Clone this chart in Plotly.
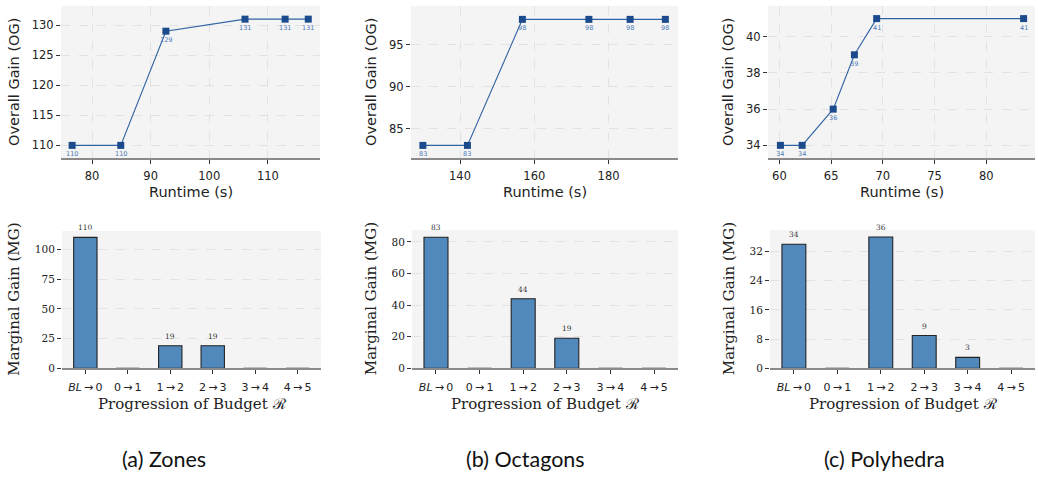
import plotly.graph_objects as go

W, H = 1038, 481

# ---------------- data ----------------
zones_rt = [76.6, 84.9, 92.6, 106.1, 112.95, 116.9]
zones_og = [110, 110, 129, 131, 131, 131]
oct_rt = [130.0, 142.0, 156.8, 174.7, 185.8, 195.3]
oct_og = [83, 83, 98, 98, 98, 98]
poly_rt = [60.1, 62.2, 65.2, 67.25, 69.4, 83.6]
poly_og = [34, 34, 36, 39, 41, 41]

budget_labels = ["<i>BL</i>\u2009→\u20090", "0\u2009→\u20091", "1\u2009→\u20092",
                 "2\u2009→\u20093", "3\u2009→\u20094", "4\u2009→\u20095"]
zones_mg = [110, 0, 19, 19, 0, 0]
oct_mg = [83, 0, 44, 19, 0, 0]
poly_mg = [34, 0, 36, 9, 3, 0]

captions = ["(a) Zones", "(b) Octagons", "(c) Polyhedra"]

# ---------------- layout boxes (pixels) ----------------
top_boxes = [(61, 320, 6, 160), (411, 678, 6, 160), (768, 1035, 6, 160)]
bot_boxes = [(62, 321, 234, 373), (412, 678, 233, 373), (770, 1035, 233, 373)]
top_xr = [[74.7, 118.9], [126.8, 198.7], [58.9, 84.7]]
top_yr = [[107.9, 133.2], [81.5, 99.6], [33.3, 41.7]]
top_xt = [[80, 90, 100, 110], [140, 160, 180], [60, 65, 70, 75, 80]]
top_yt = [[110, 115, 120, 125, 130], [85, 90, 95], [34, 36, 38, 40]]
bot_yr = [[0, 115.3], [0, 87.5], [0, 37.9]]
bot_yt = [[0, 25, 50, 75, 100], [0, 20, 40, 60, 80], [0, 8, 16, 24, 32]]

caption_x = [164, 525, 884]

SANS = "DejaVu Sans"
SERIF = "DejaVu Serif"
BG = "#f4f4f4"
GRID = "#e2e2e2"
MARK = "#1b4b8c"
LINE = "#2f62a3"
LBL = "#4d7bb7"
BAR = "#5289bd"

fig = go.Figure()
annotations = []

def px_x(x):
    return x / W

def px_y(y):
    return 1 - y / H

runtimes = [zones_rt, oct_rt, poly_rt]
ogs = [zones_og, oct_og, poly_og]
mgs = [zones_mg, oct_mg, poly_mg]

for i in range(3):
    # ---- top line panel ----
    xa = f"x{2*i+1}" if i > 0 else "x"
    ya = f"y{2*i+1}" if i > 0 else "y"
    xkey = f"xaxis{2*i+1}" if i > 0 else "xaxis"
    ykey = f"yaxis{2*i+1}" if i > 0 else "yaxis"
    x0, x1, y0, y1 = top_boxes[i]
    fig.add_trace(go.Scatter(
        x=runtimes[i], y=ogs[i], mode="lines+markers",
        line=dict(color=LINE, width=1.1),
        marker=dict(symbol="square", size=7, color=MARK),
        xaxis=xa, yaxis=ya, showlegend=False, cliponaxis=False))
    for xv, yv in zip(runtimes[i], ogs[i]):
        annotations.append(dict(
            x=xv, y=yv, xref=xa, yref=ya, text=str(yv), showarrow=False,
            yanchor="top", yshift=-3, font=dict(family=SANS, size=6.5, color=LBL)))
    fig.layout[xkey] = dict(
        domain=[px_x(x0), px_x(x1)], range=top_xr[i], anchor=ya,
        tickvals=top_xt[i], ticks="outside", ticklen=4, tickwidth=1.2, tickcolor="#333",
        ticklabelstandoff=2,
        showline=True, linecolor="#8a8a8a", linewidth=1.6,
        showgrid=True, gridcolor=GRID, griddash="dash", gridwidth=0.8,
        zeroline=False, tickfont=dict(family=SANS, size=11.5, color="#222"))
    fig.layout[ykey] = dict(
        domain=[px_y(y1), px_y(y0)], range=top_yr[i], anchor=xa,
        tickvals=top_yt[i], ticks="outside", ticklen=4, tickwidth=1.2, tickcolor="#333",
        showline=False, showgrid=True, gridcolor=GRID, griddash="dash", gridwidth=0.8,
        zeroline=False, tickfont=dict(family=SANS, size=11.5, color="#222"))
    annotations.append(dict(
        x=px_x((x0 + x1) / 2), y=px_y(194), xref="paper", yref="paper",
        text="Runtime (s)", showarrow=False, xanchor="center", yanchor="middle",
        font=dict(family=SANS, size=14.5, color="#222")))
    ytx = [14, 371, 728][i]
    annotations.append(dict(
        x=px_x(ytx), y=px_y((y0 + y1) / 2), xref="paper", yref="paper",
        text="Overall Gain (OG)", showarrow=False, textangle=-90,
        xanchor="center", yanchor="middle",
        font=dict(family=SANS, size=14.5, color="#222")))

    # ---- bottom bar panel ----
    n = 2 * i + 2
    xb, yb = f"x{n}", f"y{n}"
    x0, x1, y0, y1 = bot_boxes[i]
    cats = list(range(len(budget_labels)))
    fig.add_trace(go.Bar(
        x=cats, y=mgs[i], width=0.55,
        marker=dict(color=BAR, line=dict(color="#222", width=1.1)),
        xaxis=xb, yaxis=yb, showlegend=False, cliponaxis=False))
    for c, v in zip(cats, mgs[i]):
        if v > 0:
            annotations.append(dict(
                x=c, y=v, xref=xb, yref=yb, text=str(v), showarrow=False,
                yanchor="bottom", yshift=3,
                font=dict(family=SERIF, size=7.5, color="#333")))
    fig.layout[f"xaxis{n}"] = dict(
        domain=[px_x(x0), px_x(x1)], range=[-0.55, 5.55], anchor=yb,
        tickvals=cats, ticktext=budget_labels,
        ticks="outside", ticklen=4, tickwidth=1.2, tickcolor="#333",
        ticklabelstandoff=4,
        showline=True, linecolor="#8a8a8a", linewidth=1.6,
        showgrid=False, zeroline=False,
        tickfont=dict(family=SANS, size=11, color="#222"))
    fig.layout[f"yaxis{n}"] = dict(
        domain=[px_y(y1), px_y(y0)], range=bot_yr[i], anchor=xb,
        tickvals=bot_yt[i], ticks="outside", ticklen=4, tickwidth=1.2, tickcolor="#333",
        showline=False, showgrid=True, gridcolor=GRID, griddash="dash", gridwidth=0.8,
        zeroline=False, tickfont=dict(family=SERIF, size=10.5, color="#222"))
    annotations.append(dict(
        x=px_x((x0 + x1) / 2), y=px_y(409), xref="paper", yref="paper",
        text="Progression of Budget \u211b", showarrow=False,
        xanchor="center", yanchor="middle",
        font=dict(family=SERIF, size=15, color="#222")))
    ytx = [14, 371, 729][i]
    annotations.append(dict(
        x=px_x(ytx), y=px_y((y0 + y1) / 2), xref="paper", yref="paper",
        text="Marginal Gain (MG)", showarrow=False, textangle=-90,
        xanchor="center", yanchor="middle",
        font=dict(family=SERIF, size=15, color="#222")))

    annotations.append(dict(
        x=px_x(caption_x[i]), y=px_y(465), xref="paper", yref="paper",
        text=captions[i], showarrow=False, xanchor="center", yanchor="middle",
        font=dict(family="Lato", size=21.5, color="#111")))

fig.update_layout(
    width=W, height=H, margin=dict(l=0, r=0, t=0, b=0),
    paper_bgcolor="white", plot_bgcolor=BG,
    annotations=annotations, bargap=0.45)

fig.write_html(
    "out.html",
    config={"displayModeBar": False},
    post_script="document.body.style.margin='0';document.body.style.overflow='hidden';")
